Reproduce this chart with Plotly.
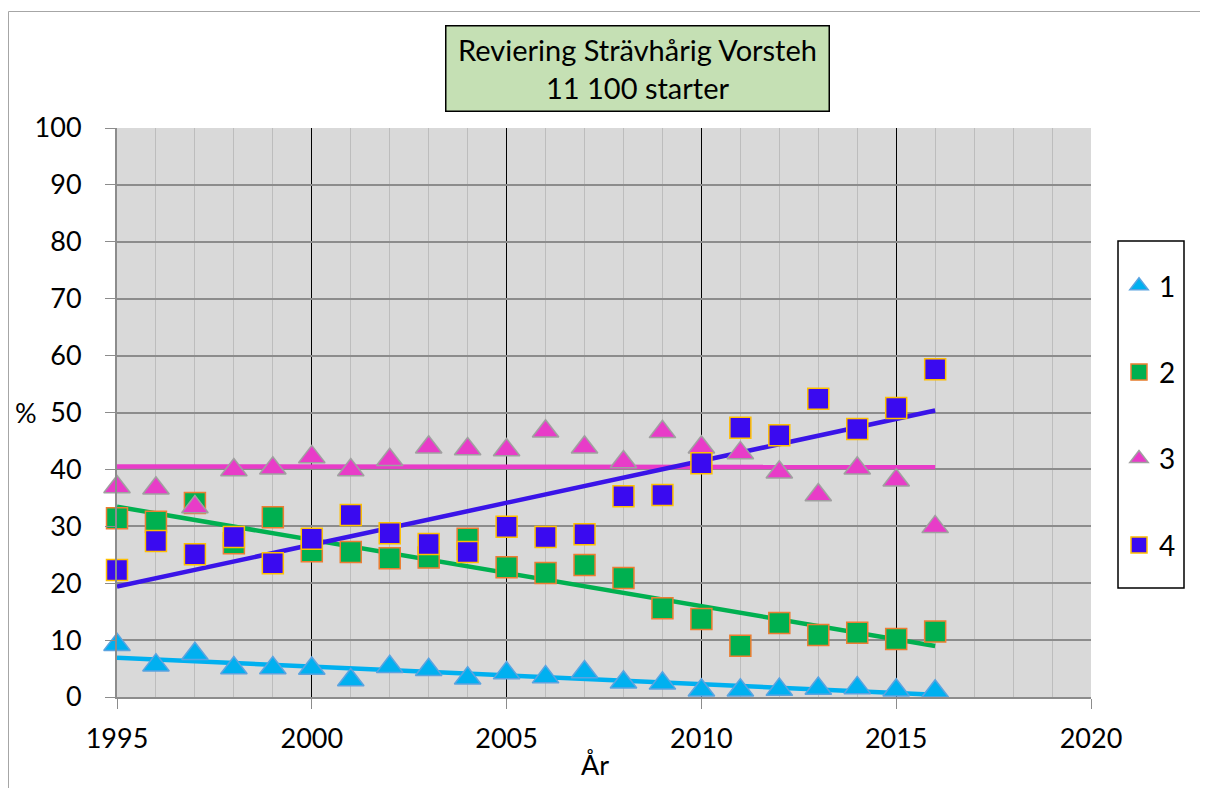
import numpy as np
import plotly.graph_objects as go

years = list(range(1995, 2017))
s1 = [9.2, 5.6, 7.6, 5.1, 5.1, 5.0, 3.0, 5.3, 4.8, 3.3, 4.2, 3.5, 4.4, 2.6, 2.4, 1.2, 1.2, 1.3, 1.5, 1.6, 1.2, 1.0]
s2 = [31.4, 30.8, 34.1, 27.0, 31.6, 25.6, 25.5, 24.4, 24.5, 27.8, 22.8, 21.8, 23.2, 20.9, 15.6, 13.7, 9.0, 13.0, 10.9, 11.3, 10.2, 11.5]
s3 = [36.9, 36.7, 33.4, 39.9, 40.2, 42.2, 39.9, 41.7, 43.9, 43.6, 43.4, 46.7, 43.9, 41.3, 46.6, 43.9, 42.9, 39.5, 35.5, 40.2, 38.1, 29.9]
s4 = [22.3, 27.4, 25.1, 28.1, 23.5, 27.8, 32.0, 28.8, 26.9, 25.5, 29.9, 28.1, 28.6, 35.3, 35.5, 41.1, 47.3, 46.0, 52.4, 47.1, 50.8, 57.6]
names = ["1", "2", "3", "4"]
fills = ["#00b0f0", "#00b050", "#e83cc8", "#3a0af0"]
borders = ["#5ba3e0", "#ed7d31", "#a0a0a0", "#ffc000"]
lines = ["#00b0f0", "#00b050", "#e83cc8", "#3a14e8"]
symbols = ["triangle-up", "square", "triangle-up", "square"]
sizes = [23, 21, 23, 21]

FONT = "Lato, Open Sans, sans-serif"

# page pixel -> paper coords (plot area: x 117..1091, y 128..697 on the page)
def px(v):
    return (v - 117) / 974

def py(v):
    return (697 - v) / 569

fig = go.Figure()
series = [s1, s2, s3, s4]
x = np.array(years, dtype=float)
for i, s in enumerate(series):
    k, b = np.polyfit(x, np.array(s), 1)
    fig.add_trace(go.Scatter(x=[x[0], x[-1]], y=[k * x[0] + b, k * x[-1] + b], mode="lines",
                             line=dict(color=lines[i], width=4.5), showlegend=False, hoverinfo="skip",
                             cliponaxis=False))
for i, s in enumerate(series):
    fig.add_trace(go.Scatter(x=years, y=s, mode="markers", name=names[i], legendgroup=names[i],
                             cliponaxis=False,
                             marker=dict(symbol=symbols[i], size=sizes[i], color=fills[i],
                                         line=dict(color=borders[i], width=1.5))))

fig.update_layout(
    width=1200, height=780,
    margin=dict(l=109, r=117, t=120, b=91, autoexpand=False),
    paper_bgcolor="white", plot_bgcolor="#d9d9d9",
    font=dict(family=FONT, size=27, color="black"),
    showlegend=True,
    legend=dict(x=px(1119), y=py(261), xanchor="left", yanchor="top",
                borderwidth=0, bgcolor="rgba(0,0,0,0)",
                font=dict(size=28), tracegroupgap=47, itemwidth=30),
    xaxis=dict(range=[1995, 2020], tick0=1995, dtick=5, showgrid=True, gridcolor="#000000", gridwidth=1,
               minor=dict(dtick=1, showgrid=True, gridcolor="#bdbdbd", gridwidth=1),
               ticks="outside", ticklen=10, tickcolor="#8c8c8c", showline=True, linecolor="#8c8c8c", linewidth=2,
               zeroline=False, tickfont=dict(size=27), ticklabelstandoff=7),
    yaxis=dict(range=[0, 100], dtick=10, showgrid=True, gridcolor="#8c8c8c", gridwidth=2,
               ticks="outside", ticklen=10, tickcolor="#8c8c8c", showline=True, linecolor="#8c8c8c", linewidth=2,
               zeroline=False, tickfont=dict(size=27), ticklabelstandoff=18),
    annotations=[
        dict(text="Reviering Strävhårig Vorsteh<br>11 100 starter", xref="paper", yref="paper",
             x=px(637), y=py(68.5), xanchor="center", yanchor="middle", showarrow=False,
             font=dict(size=29, family=FONT), bgcolor="#c5e0b4", bordercolor="black", borderwidth=1.5,
             borderpad=3, width=376, height=78),
        dict(text="%", xref="paper", yref="paper", x=px(26), y=py(412),
             xanchor="center", yanchor="middle", showarrow=False, font=dict(size=27)),
        dict(text="År", xref="paper", yref="paper", x=px(595), y=py(764),
             xanchor="center", yanchor="middle", showarrow=False, font=dict(size=27)),
    ],
    shapes=[
        dict(type="rect", xref="paper", yref="paper", x0=px(8.5), x1=px(1240),
             y0=py(840), y1=py(11.5), line=dict(color="#a6a6a6", width=1), layer="below"),
        dict(type="rect", xref="paper", yref="paper", x0=px(1118), x1=px(1184),
             y0=py(588), y1=py(241), line=dict(color="black", width=1.5)),
    ],
)
fig.write_html("out.html")
